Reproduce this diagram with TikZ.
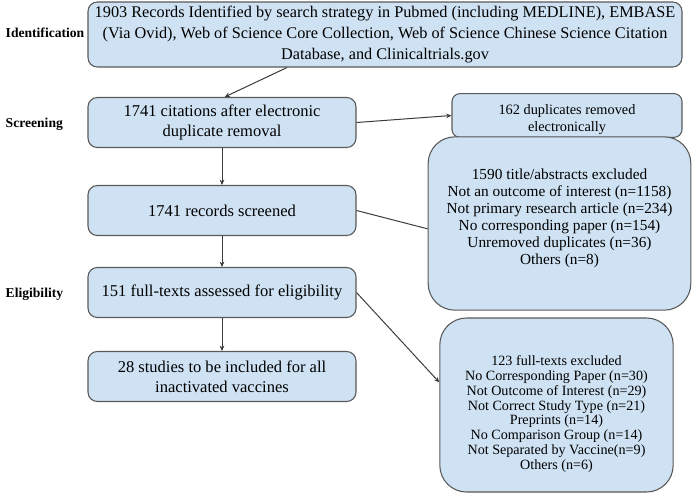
\documentclass[tikz,border=0pt]{standalone}
\usepackage{fontspec}
\setmainfont{Liberation Serif}
\usetikzlibrary{arrows.meta}
\definecolor{boxfill}{HTML}{CFE2F3}
\definecolor{boxline}{HTML}{595959}
\definecolor{linkline}{HTML}{3C3C3C}
\tikzset{block/.style={ % Main boxes of the left column
           draw=boxline, fill=boxfill, line width=0.8pt,
           rounded corners=7pt, align=center, inner sep=2pt,
           minimum width=201pt, minimum height=37.5pt,
           font=\fontsize{12.4}{15}\selectfont},
         sidebox/.style={ % Exclusion boxes on the right
           block, rounded corners=20pt},
         stage/.style={anchor=west,
           font=\bfseries\fontsize{10.2}{12}\selectfont}}

\begin{document}
\begin{tikzpicture}[x=0.75pt,y=-0.75pt]
\useasboundingbox (0,0) rectangle (694,494);

\node[stage] (ident) at (1,33) {Identification};
\node[stage] (screen) at (1,124) {Screening};
\node[stage] (elig) at (1,294) {Eligibility};

\node[block, minimum width=445.5pt, minimum height=48.75pt,
      font=\fontsize{12.2}{15.5}\selectfont] (R) at (385,34.5)
  {1903 Records Identified by search strategy in Pubmed (including MEDLINE), EMBASE\\
   (Via Ovid), Web of Science Core Collection, Web of Science Chinese Science Citation\\
   Database, and Clinicaltrials.gov};
\node[block] (C) at (222,122.5) {1741 citations after electronic\\duplicate removal};
\node[block] (S) at (222,210.5) {1741 records screened};
\node[block] (F) at (222,292.5) {151 full-texts assessed for eligibility};
\node[block] (I) at (222,376.5) {28 studies to be included for all\\inactivated vaccines};

% struts push the text off the centre of the side boxes
\node[sidebox, rounded corners=6pt, minimum width=172.5pt, minimum height=27.75pt,
      font=\fontsize{10.75}{13}\selectfont] (D) at (567,115.5)
  {\rule{0pt}{13.5pt}162 duplicates removed\\electronically};
\node[sidebox, minimum width=197pt, minimum height=130pt,
      font=\fontsize{11.5}{12.75}\selectfont] (T) at (559.5,223.5)
  {1590 title/abstracts excluded\\
   Not an outcome of interest (n=1158)\\
   Not primary research article (n=234)\\
   No corresponding paper (n=154)\\
   Unremoved duplicates (n=36)\\
   Others (n=8)\rule[-10pt]{0pt}{1pt}};
\node[sidebox, minimum width=175pt, minimum height=130.5pt,
      font=\fontsize{10.6}{11.2}\selectfont] (X) at (556.5,405)
  {\rule{0pt}{21pt}123 full-texts excluded\\
   No Corresponding Paper (n=30)\\
   Not Outcome of Interest (n=29)\\
   Not Correct Study Type (n=21)\\
   Preprints (n=14)\\
   No Comparison Group (n=14)\\
   Not Separated by Vaccine(n=9)\\
   Others (n=6)};

\begin{scope}[>={Stealth[length=4pt,width=3.5pt]},
              every edge/.style={draw=linkline,line width=0.75pt}]
    \path [-] ([xshift=-73.5pt]R.south) edge [->] ([xshift=2pt]C.north);
    \path [-] (C.east) edge [->] (D.west);
    \path [-] (C) edge [->] (S);
    \path [-] (S.east) edge ([yshift=-4pt]T.west);
    \path [-] (S) edge [->] (F);
    \path [-] (F.east) edge [->] ([yshift=17pt]X.west);
    \path [-] (F) edge [->] (I);
\end{scope}
\end{tikzpicture}
\end{document}
